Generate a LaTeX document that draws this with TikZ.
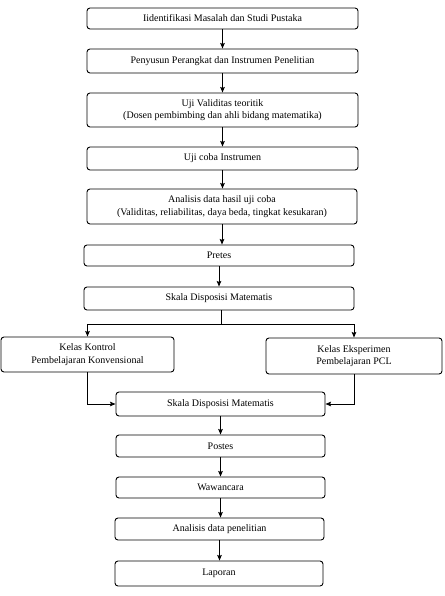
\documentclass[tikz,border=0pt]{standalone}
\usepackage{fontspec}
\setmainfont{Liberation Serif}
\usetikzlibrary{positioning,arrows.meta}
\tikzset{>={Stealth[length=5.5pt,width=4.5pt,inset=0.8pt]}}
\tikzset{
  tahap/.style={draw, rounded corners=3pt, align=center, inner sep=1pt,
    font=\fontsize{10}{12.5}\selectfont, line width=0.9pt},
  panah/.style={->, line width=0.9pt}
}

\begin{document}
\begin{tikzpicture}[x=1pt,y=-1pt]
				\useasboundingbox (0,0) rectangle (444,596);
				% alur utama
				\node [tahap, minimum width=271pt, minimum height=21pt] (idf) at (222.5,18.5) {Iidentifikasi Masalah dan Studi Pustaka};
				\node [tahap, minimum width=271pt, minimum height=24pt] (sus) at (222.5,61) {Penyusun Perangkat dan Instrumen Penelitian};
				\node [tahap, minimum width=271pt, minimum height=34pt] (val) at (222.5,110) {Uji Validitas teoritik\\(Dosen pembimbing dan ahli bidang matematika)};
				\node [tahap, minimum width=271pt, minimum height=23pt] (uji) at (222.5,158.5) {Uji coba Instrumen};
				\node [tahap, minimum width=270pt, minimum height=35pt] (ana) at (222,206.5) {Analisis data hasil uji coba\\(Validitas, reliabilitas, daya beda, tingkat kesukaran)};
				\node [tahap, minimum width=270pt, minimum height=21pt] (pre) at (219,255.5) {Pretes};
				\node [tahap, minimum width=270pt, minimum height=23pt] (sk1) at (219,298.5) {Skala Disposisi Matematis};
				% dua kelas
				\node [tahap, minimum width=173pt, minimum height=35pt] (kon) at (87.5,354.5) {Kelas Kontrol\\Pembelajaran Konvensional};
				\node [tahap, minimum width=176pt, minimum height=36pt] (eks) at (354,356) {Kelas Eksperimen\\Pembelajaran PCL};
				% setelah perlakuan
				\node [tahap, minimum width=209pt, minimum height=24pt] (sk2) at (220.5,404) {Skala Disposisi Matematis};
				\node [tahap, minimum width=209pt, minimum height=22pt] (pos) at (220.5,446) {Postes};
				\node [tahap, minimum width=209pt, minimum height=21pt] (waw) at (220.5,487.5) {Wawancara};
				\node [tahap, minimum width=209pt, minimum height=22pt] (anp) at (219.5,529) {Analisis data penelitian};
				\node [tahap, minimum width=208pt, minimum height=25pt] (lap) at (219,573.5) {Laporan};
				
				\draw [panah] (idf) -- (idf |- sus.north);
				\draw [panah] (sus) -- (sus |- val.north);
				\draw [panah] (val) -- (val |- uji.north);
				\draw [panah] (uji) -- (uji |- ana.north);
				\draw [panah] (ana) -- (ana |- pre.north);
				\draw [panah] (pre) -- (pre |- sk1.north);
				\coordinate (cab) at (221,324);
				\draw [line width=0.9pt] (sk1.south -| cab) -- (cab);
				\draw [panah] (cab) -| (kon);
				\draw [panah] (cab) -| (eks);
				\draw [panah] (kon) |- (sk2);
				\draw [panah] (eks) |- (sk2);
				\draw [panah] (sk2) -- (sk2 |- pos.north);
				\draw [panah] (pos) -- (pos |- waw.north);
				\draw [panah] (waw) -- (waw |- anp.north);
				\draw [panah] (anp) -- (anp |- lap.north);
				\end{tikzpicture}
\end{document}
